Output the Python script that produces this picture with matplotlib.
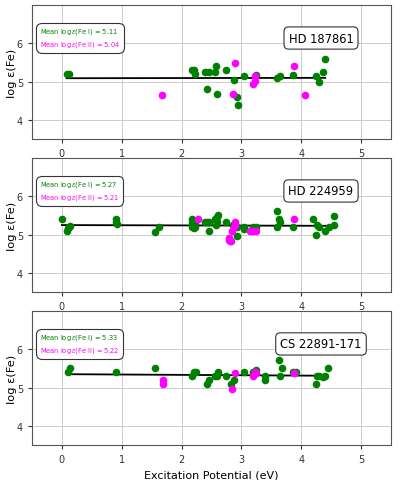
import numpy as np
import matplotlib.pyplot as plt
from matplotlib.offsetbox import TextArea, VPacker, AnchoredOffsetbox

# Datos: potencial de excitacion (eV) y log eps(Fe)
stars = ["HD 187861", "HD 224959", "CS 22891-171"]
mean_fe1 = [5.11, 5.27, 5.33]
mean_fe2 = [5.04, 5.21, 5.22]

# HD 187861
ep1_a = [0.08, 0.12, 2.17, 2.2, 2.23, 2.39, 2.45, 2.56, 2.57, 2.43, 2.59, 2.75, 2.88,
         2.93, 2.95, 3.05, 3.25, 3.6, 3.65, 3.87, 4.25, 4.3, 4.37, 4.4]
fe1_a = [5.2, 5.2, 5.3, 5.3, 5.2, 5.24, 5.24, 5.24, 5.4, 4.8, 4.69, 5.3, 5.05,
         4.6, 4.39, 5.15, 5.18, 5.1, 5.15, 5.18, 5.15, 5.0, 5.24, 5.6]
ep2_a = [1.67, 2.86, 2.89, 3.2, 3.22, 3.23, 3.88, 4.07]
fe2_a = [4.64, 4.68, 5.49, 4.95, 5.03, 5.14, 5.4, 4.64]

# HD 224959
ep1_b = [0.0, 0.08, 0.1, 0.12, 0.14, 0.9, 0.91, 0.92, 1.55, 1.62, 2.17, 2.17, 2.17, 2.17,
         2.2, 2.22, 2.22, 2.39, 2.42, 2.46, 2.45, 2.56, 2.59, 2.61, 2.57, 2.59, 2.75,
         2.86, 2.92, 2.93, 3.05, 3.05, 3.2, 3.25, 3.6, 3.63, 3.65, 3.6, 3.87, 4.2,
         4.25, 4.26, 4.3, 4.39, 4.47, 4.54, 4.54]
fe1_b = [5.41, 5.1, 5.17, 5.21, 5.23, 5.41, 5.33, 5.28, 5.06, 5.19, 5.41, 5.32, 5.25, 5.19,
         5.17, 5.28, 5.21, 5.32, 5.32, 5.32, 5.1, 5.41, 5.47, 5.52, 5.25, 5.32, 5.32,
         5.25, 5.19, 4.97, 5.19, 5.15, 5.19, 5.19, 5.61, 5.41, 5.32, 5.19, 5.19, 5.41,
         5.0, 5.25, 5.19, 5.1, 5.19, 5.5, 5.25]
ep2_b = [2.27, 2.8, 2.81, 2.82, 2.8, 2.85, 2.89, 2.89, 2.88, 3.15, 3.2, 3.24, 3.88]
fe2_b = [5.41, 4.9, 4.84, 4.82, 4.87, 5.1, 5.32, 5.25, 5.19, 5.1, 5.1, 5.1, 5.41]

# CS 22891-171
ep1_c = [0.11, 0.13, 0.91, 1.55, 2.17, 2.2, 2.24, 2.43, 2.45, 2.56, 2.59, 2.61, 2.75,
         2.82, 2.88, 3.05, 3.2, 3.25, 3.39, 3.4, 3.63, 3.65, 3.68, 3.86, 3.91, 4.25,
         4.26, 4.3, 4.37, 4.39, 4.44]
fe1_c = [5.41, 5.52, 5.41, 5.52, 5.31, 5.41, 5.41, 5.1, 5.21, 5.31, 5.31, 5.41, 5.31,
         5.1, 5.21, 5.41, 5.41, 5.45, 5.31, 5.21, 5.71, 5.31, 5.52, 5.41, 5.41, 5.1,
         5.31, 5.31, 5.27, 5.31, 5.52]
ep2_c = [1.69, 1.69, 2.84, 2.89, 3.2, 3.22, 3.25, 3.88]
fe2_c = [5.21, 5.1, 4.96, 5.37, 5.31, 5.41, 5.37, 5.37]

fit_izq = [5.09, 5.25, 5.35]
fit_der = [5.10, 5.23, 5.31]

datos = [(ep1_a, fe1_a, ep2_a, fe2_a), (ep1_b, fe1_b, ep2_b, fe2_b), (ep1_c, fe1_c, ep2_c, fe2_c)]

fig = plt.figure(figsize=(4, 4.81), dpi=100)
bottoms = [0.709, 0.391, 0.073]
for i, (x1, y1, x2, y2) in enumerate(datos):
    ax = fig.add_axes([0.08, bottoms[i], 0.8975, 0.278])
    ax.scatter(x1, y1, s=20, color='green', zorder=3)
    ax.scatter(x2, y2, s=20, color='magenta', zorder=3)
    ax.plot([min(x1), max(x1)], [fit_izq[i], fit_der[i]], color='black', lw=1.3, zorder=2)
    ax.set_xlim(-0.5, 5.5)
    ax.set_ylim(3.5, 7)
    ax.set_yticks([4, 5, 6])
    ax.grid(True, color='#cccccc', lw=0.7)
    ax.set_axisbelow(True)
    ax.tick_params(labelsize=7, colors='#333333', length=3)
    for sp in ax.spines.values():
        sp.set_color('#555555')
    ax.set_ylabel("log ε(Fe)", fontsize=8.2, labelpad=0)

    t1 = TextArea(r"Mean log$\,\epsilon$(Fe I) = %.2f" % mean_fe1[i],
                  textprops=dict(color='green', fontsize=4.8))
    t2 = TextArea(r"Mean log$\,\epsilon$(Fe II) = %.2f" % mean_fe2[i],
                  textprops=dict(color='magenta', fontsize=4.8))
    caja = VPacker(children=[t1, t2], align='left', pad=0, sep=2)
    anc = AnchoredOffsetbox(loc='upper left', child=caja, pad=0.55, frameon=True,
                            bbox_to_anchor=(0.012, 0.87), bbox_transform=ax.transAxes,
                            borderpad=0, prop=dict(size=5))
    anc.patch.set_boxstyle('round,pad=0,rounding_size=0.8')
    anc.patch.set_edgecolor('#333333')
    anc.patch.set_linewidth(0.8)
    ax.add_artist(anc)

    ax.text(0.805, 0.755, stars[i], transform=ax.transAxes, fontsize=8.3, ha='center', va='center',
            bbox=dict(boxstyle='round,pad=0.4', fc='white', ec='#333333', lw=0.8))
ax.set_xlabel("Excitation Potential (eV)", fontsize=8)

plt.savefig("out.png", dpi=100)
plt.close()
